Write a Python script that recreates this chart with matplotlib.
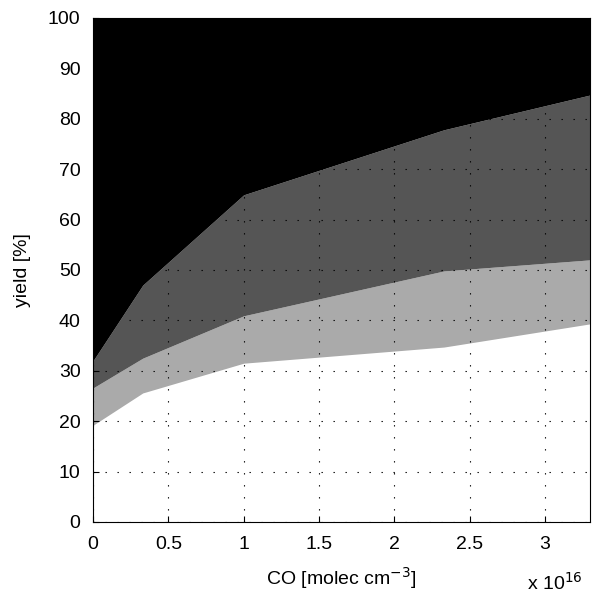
import matplotlib.pyplot as plt

# CO concentration (units of 1e16 molec cm-3)
co = [0.0, 0.33, 1.0, 2.33, 3.3]

# cumulative yield boundaries [%]
edge_white = [19.2, 25.6, 31.5, 34.7, 39.3]
edge_light = [26.6, 32.5, 40.9, 49.8, 52.0]
edge_dark = [32.0, 47.0, 64.9, 77.8, 84.7]
top = [100, 100, 100, 100, 100]


def main():
    plt.rcParams['font.family'] = ['Liberation Sans', 'DejaVu Sans']
    fig = plt.figure(figsize=(5.93, 5.95), dpi=100)
    ax = fig.add_axes([0.157, 0.1227, 0.838, 0.8473])

    # bandas apiladas
    ax.fill_between(co, edge_white, edge_light, color='#aaaaaa', lw=0)
    ax.fill_between(co, edge_light, edge_dark, color='#555555', lw=0)
    ax.fill_between(co, edge_dark, top, color='black', lw=0)

    ax.set_xlim(0, 3.3)
    ax.set_ylim(0, 100)
    ax.set_xticks([0, 0.5, 1, 1.5, 2, 2.5, 3])
    ax.set_xticklabels(['0', '0.5', '1', '1.5', '2', '2.5', '3'])
    ax.set_yticks(range(0, 101, 10))

    ax.set_axisbelow(False)
    ax.grid(True, color='black', lw=0.8, linestyle=(0, (1.2, 9.6)))
    ax.tick_params(direction='in', length=4, labelsize=14)
    ax.tick_params(axis='x', pad=10)
    ax.tick_params(axis='y', pad=9)

    for s in ax.spines.values():
        s.set_linewidth(0.8)

    ax.set_xlabel('CO [molec cm$^{-3}$]', fontsize=14, labelpad=9)
    ax.set_ylabel('yield [%]', fontsize=14, labelpad=12)
    fig.text(0.936, 0.002, 'x 10$^{16}$', fontsize=14, ha='center', va='bottom')

    fig.savefig('out.png', dpi=100)


if __name__ == '__main__':
    main()
